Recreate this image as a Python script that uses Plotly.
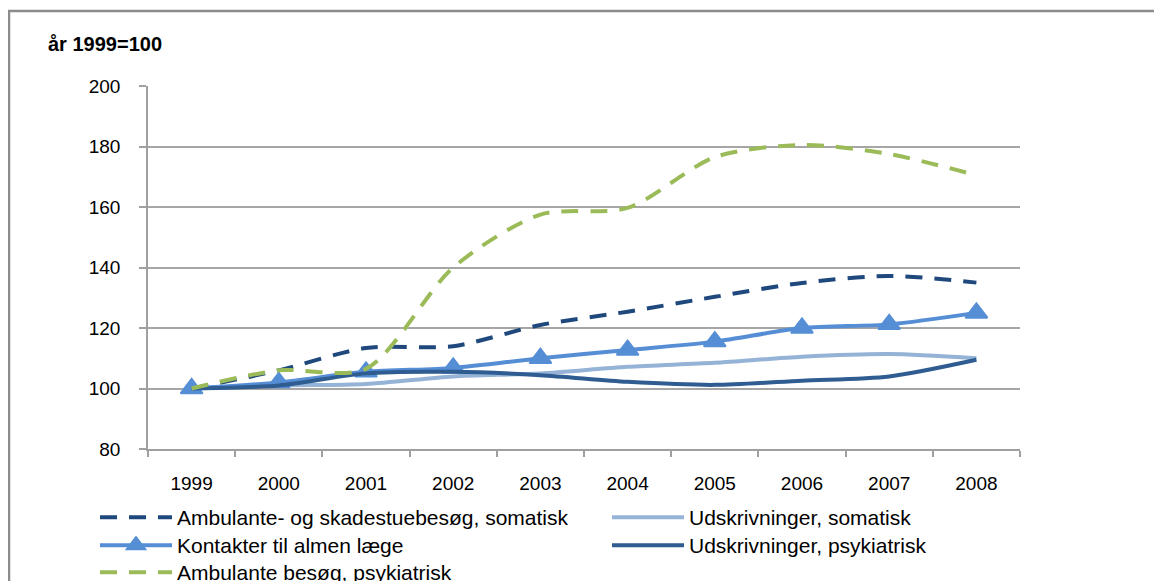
import plotly.graph_objects as go

years = ["1999", "2000", "2001", "2002", "2003", "2004", "2005", "2006", "2007", "2008"]

amb_skade_somatisk = [100, 106, 113.4, 114, 121, 125.4, 130.3, 134.9, 137.2, 135]
udskr_somatisk = [100, 101, 101.5, 104, 105, 107.2, 108.5, 110.5, 111.4, 110]
kontakter_laege = [100, 102, 105.5, 106.8, 110, 112.7, 115.5, 120, 121.2, 125]
udskr_psykiatrisk = [100, 101, 105, 105.5, 104.4, 102.2, 101.2, 102.6, 104, 109.5]
amb_psykiatrisk = [100, 106, 106.5, 140, 157.5, 159.7, 176.5, 180.5, 177.5, 170.5]

names = [
    "Ambulante- og skadestuebesøg, somatisk",
    "Udskrivninger, somatisk",
    "Kontakter til almen læge",
    "Udskrivninger, psykiatrisk",
    "Ambulante besøg, psykiatrisk",
]

FONT = "Liberation Sans, Arial, sans-serif"
DASH = "17px,12px"

fig = go.Figure()
fig.add_trace(go.Scatter(x=years, y=amb_skade_somatisk, name=names[0], mode="lines", legend="legend",
                         line=dict(color="#1F497D", width=4, dash=DASH, shape="spline", smoothing=0.8)))
fig.add_trace(go.Scatter(x=years, y=udskr_somatisk, name=names[1], mode="lines", legend="legend2",
                         line=dict(color="#95B3D7", width=4, shape="spline", smoothing=0.8)))
fig.add_trace(go.Scatter(x=years, y=kontakter_laege, name=names[2], mode="lines+markers", legend="legend3",
                         line=dict(color="#558ED5", width=4, shape="spline", smoothing=0.8),
                         marker=dict(symbol="triangle-up", size=19, color="#558ED5",
                                     line=dict(color="#558ED5", width=2))))
fig.add_trace(go.Scatter(x=years, y=udskr_psykiatrisk, name=names[3], mode="lines", legend="legend4",
                         line=dict(color="#2F5D91", width=4, shape="spline", smoothing=0.8)))
fig.add_trace(go.Scatter(x=years, y=amb_psykiatrisk, name=names[4], mode="lines", legend="legend5",
                         line=dict(color="#9BBB59", width=4, dash=DASH, shape="spline", smoothing=0.8)))

# figure pixel coordinates (page has an 8px body margin)
L, R, T, B = 140, 1012, 78, 441
W, H = 1154, 573

def px_x(p):
    return (p - L) / (R - L)

def px_y(p):
    return (B - p) / (B - T)

def leg(xp, yp):
    return dict(
        orientation="v", yanchor="top", xanchor="left",
        x=px_x(xp), y=px_y(yp),
        font=dict(size=21, family=FONT, color="#000000"),
        itemwidth=72, traceorder="normal", bgcolor="rgba(0,0,0,0)",
    )

COL1, COL2 = 87, 599
ROW1, ROW2, ROW3 = 489, 517, 544

fig.update_layout(
    width=W, height=H,
    margin=dict(l=L, r=W - R, t=T, b=H - B, autoexpand=False),
    paper_bgcolor="white", plot_bgcolor="white",
    font=dict(family=FONT, color="#000000", size=19),
    showlegend=True,
    legend=leg(COL1, ROW1),
    legend2=leg(COL2, ROW1),
    legend3=leg(COL1, ROW2),
    legend4=leg(COL2, ROW2),
    legend5=leg(COL1, ROW3),
    annotations=[dict(
        text="<b>år 1999=100</b>", xref="paper", yref="paper",
        x=px_x(38), y=px_y(36), xanchor="left", yanchor="middle",
        showarrow=False, font=dict(size=20, family=FONT, color="#000000"),
    )],
    shapes=[dict(
        type="rect", xref="paper", yref="paper",
        x0=px_x(1), x1=px_x(1170), y0=px_y(600), y1=px_y(3),
        line=dict(color="#8C8C8C", width=2.5), fillcolor="rgba(0,0,0,0)", layer="below",
    )],
)

fig.update_xaxes(
    type="category", range=[-0.5, 9.5],
    showgrid=False, showline=True, linecolor="#A0A0A0", linewidth=1.5,
    ticks="outside", tickson="boundaries", ticklen=6, tickcolor="#A0A0A0", tickwidth=1.5,
    tickfont=dict(size=19, family=FONT, color="#000000"), ticklabelstandoff=16,
    zeroline=False,
)
fig.update_yaxes(
    range=[80, 200], dtick=20, tick0=80,
    showgrid=True, gridcolor="#A6A6A6", gridwidth=1.5,
    showline=True, linecolor="#A0A0A0", linewidth=1.5,
    ticks="outside", ticklen=7, tickcolor="#A0A0A0", tickwidth=1.5,
    tickfont=dict(size=19, family=FONT, color="#000000"), ticklabelstandoff=15,
    zeroline=False,
)

fig.write_html("out.html")
